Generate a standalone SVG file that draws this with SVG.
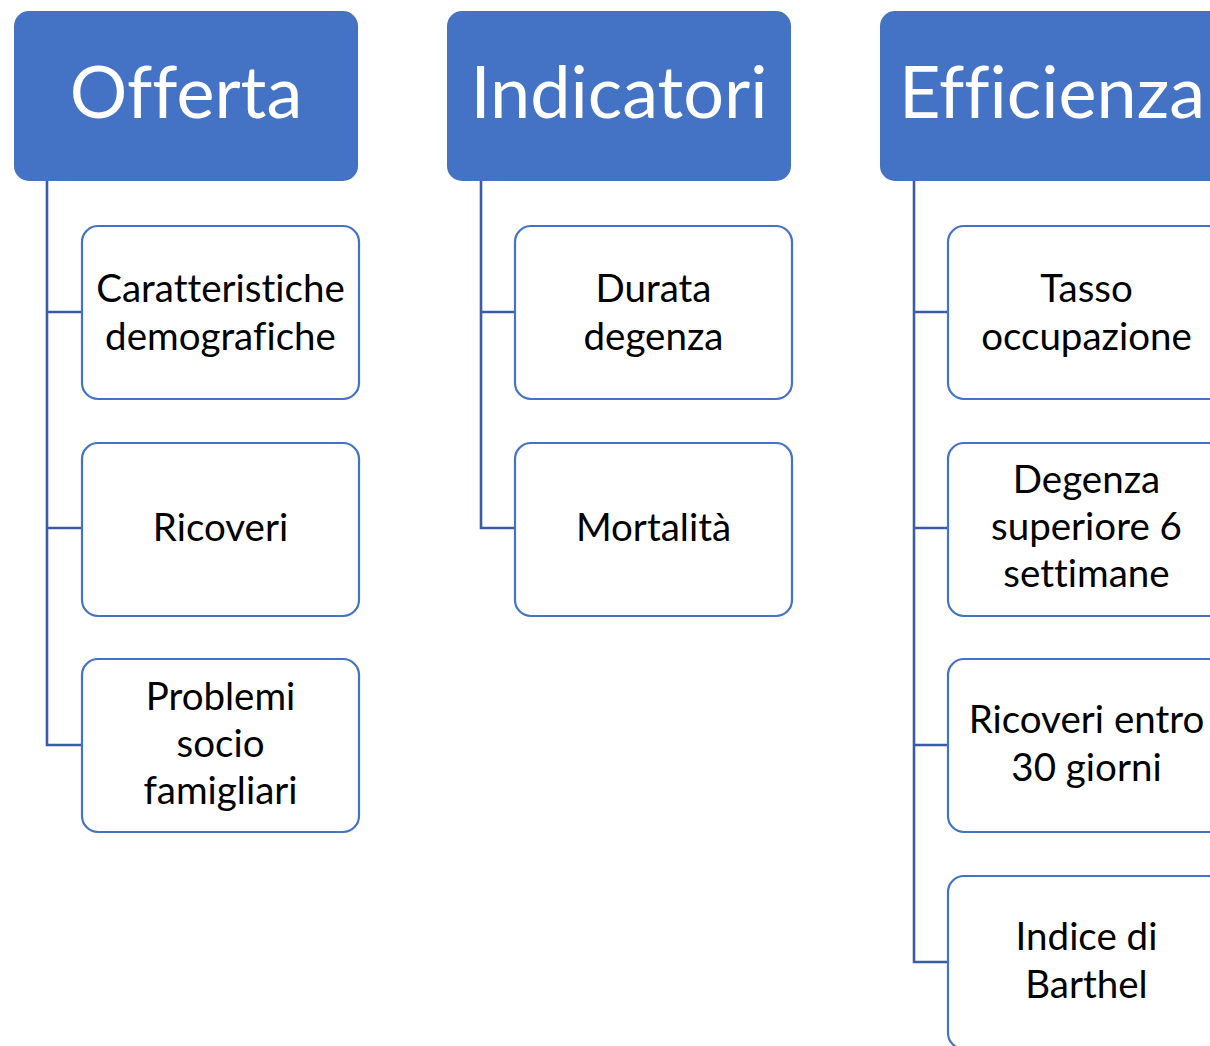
<svg xmlns="http://www.w3.org/2000/svg" width="1210" height="1046" viewBox="0 0 1210 1046">
<style>
.hdr{fill:#4472C4}
.hdr-t{font-family:Lato,"Liberation Sans",sans-serif;font-size:72px;fill:#fff;text-anchor:middle;font-variant-ligatures:none}
.box{fill:#fff;stroke:#4472C4;stroke-width:2.2}
.box-t{font-family:Lato,"Liberation Sans",sans-serif;font-size:38.5px;fill:#000;text-anchor:middle;font-variant-ligatures:none}
.conn{fill:none;stroke:#3A5CA6;stroke-width:2.6}
</style>
<rect width="1210" height="1046" fill="#fff"/>
<g id="connectors">
<path class="conn" d="M47,181 V745 H82 M47,312 H82 M47,528 H82"/>
<path class="conn" d="M481,181 V528 H515 M481,312 H515"/>
<path class="conn" d="M914,181 V962 H948 M914,312 H948 M914,528 H948 M914,745 H948"/>
</g>
<g id="offerta"><rect class="hdr" x="14" y="11" width="344" height="170" rx="15"/><text class="hdr-t" x="186" y="118">Offerta</text></g>
<g id="indicatori"><rect class="hdr" x="447" y="11" width="344" height="170" rx="15"/><text class="hdr-t" x="619" y="118">Indicatori</text></g>
<g id="efficienza"><rect class="hdr" x="880" y="11" width="344" height="170" rx="15"/><text class="hdr-t" x="1052" y="118">Efficienza</text></g>
<g id="caratteristiche"><rect class="box" x="82" y="226" width="277" height="173" rx="16"/><text class="box-t" x="220.5" y="302">Caratteristiche</text><text class="box-t" x="220.5" y="350">demografiche</text></g>
<g id="ricoveri"><rect class="box" x="82" y="443" width="277" height="173" rx="16"/><text class="box-t" x="220.5" y="541">Ricoveri</text></g>
<g id="problemi"><rect class="box" x="82" y="659" width="277" height="173" rx="16"/><text class="box-t" x="220.5" y="710">Problemi</text><text class="box-t" x="220.5" y="757">socio</text><text class="box-t" x="220.5" y="804">famigliari</text></g>
<g id="durata"><rect class="box" x="515" y="226" width="277" height="173" rx="16"/><text class="box-t" x="653.5" y="302">Durata</text><text class="box-t" x="653.5" y="350">degenza</text></g>
<g id="mortalita"><rect class="box" x="515" y="443" width="277" height="173" rx="16"/><text class="box-t" x="653.5" y="541">Mortalità</text></g>
<g id="tasso"><rect class="box" x="948" y="226" width="277" height="173" rx="16"/><text class="box-t" x="1086.5" y="302">Tasso</text><text class="box-t" x="1086.5" y="350">occupazione</text></g>
<g id="degenza"><rect class="box" x="948" y="443" width="277" height="173" rx="16"/><text class="box-t" x="1086.5" y="493">Degenza</text><text class="box-t" x="1086.5" y="540">superiore 6</text><text class="box-t" x="1086.5" y="587">settimane</text></g>
<g id="ricoveri30"><rect class="box" x="948" y="659" width="277" height="173" rx="16"/><text class="box-t" x="1086.5" y="733">Ricoveri entro</text><text class="box-t" x="1086.5" y="781">30 giorni</text></g>
<g id="barthel"><rect class="box" x="948" y="876" width="277" height="173" rx="16"/><text class="box-t" x="1086.5" y="950">Indice di</text><text class="box-t" x="1086.5" y="998">Barthel</text></g>
</svg>
